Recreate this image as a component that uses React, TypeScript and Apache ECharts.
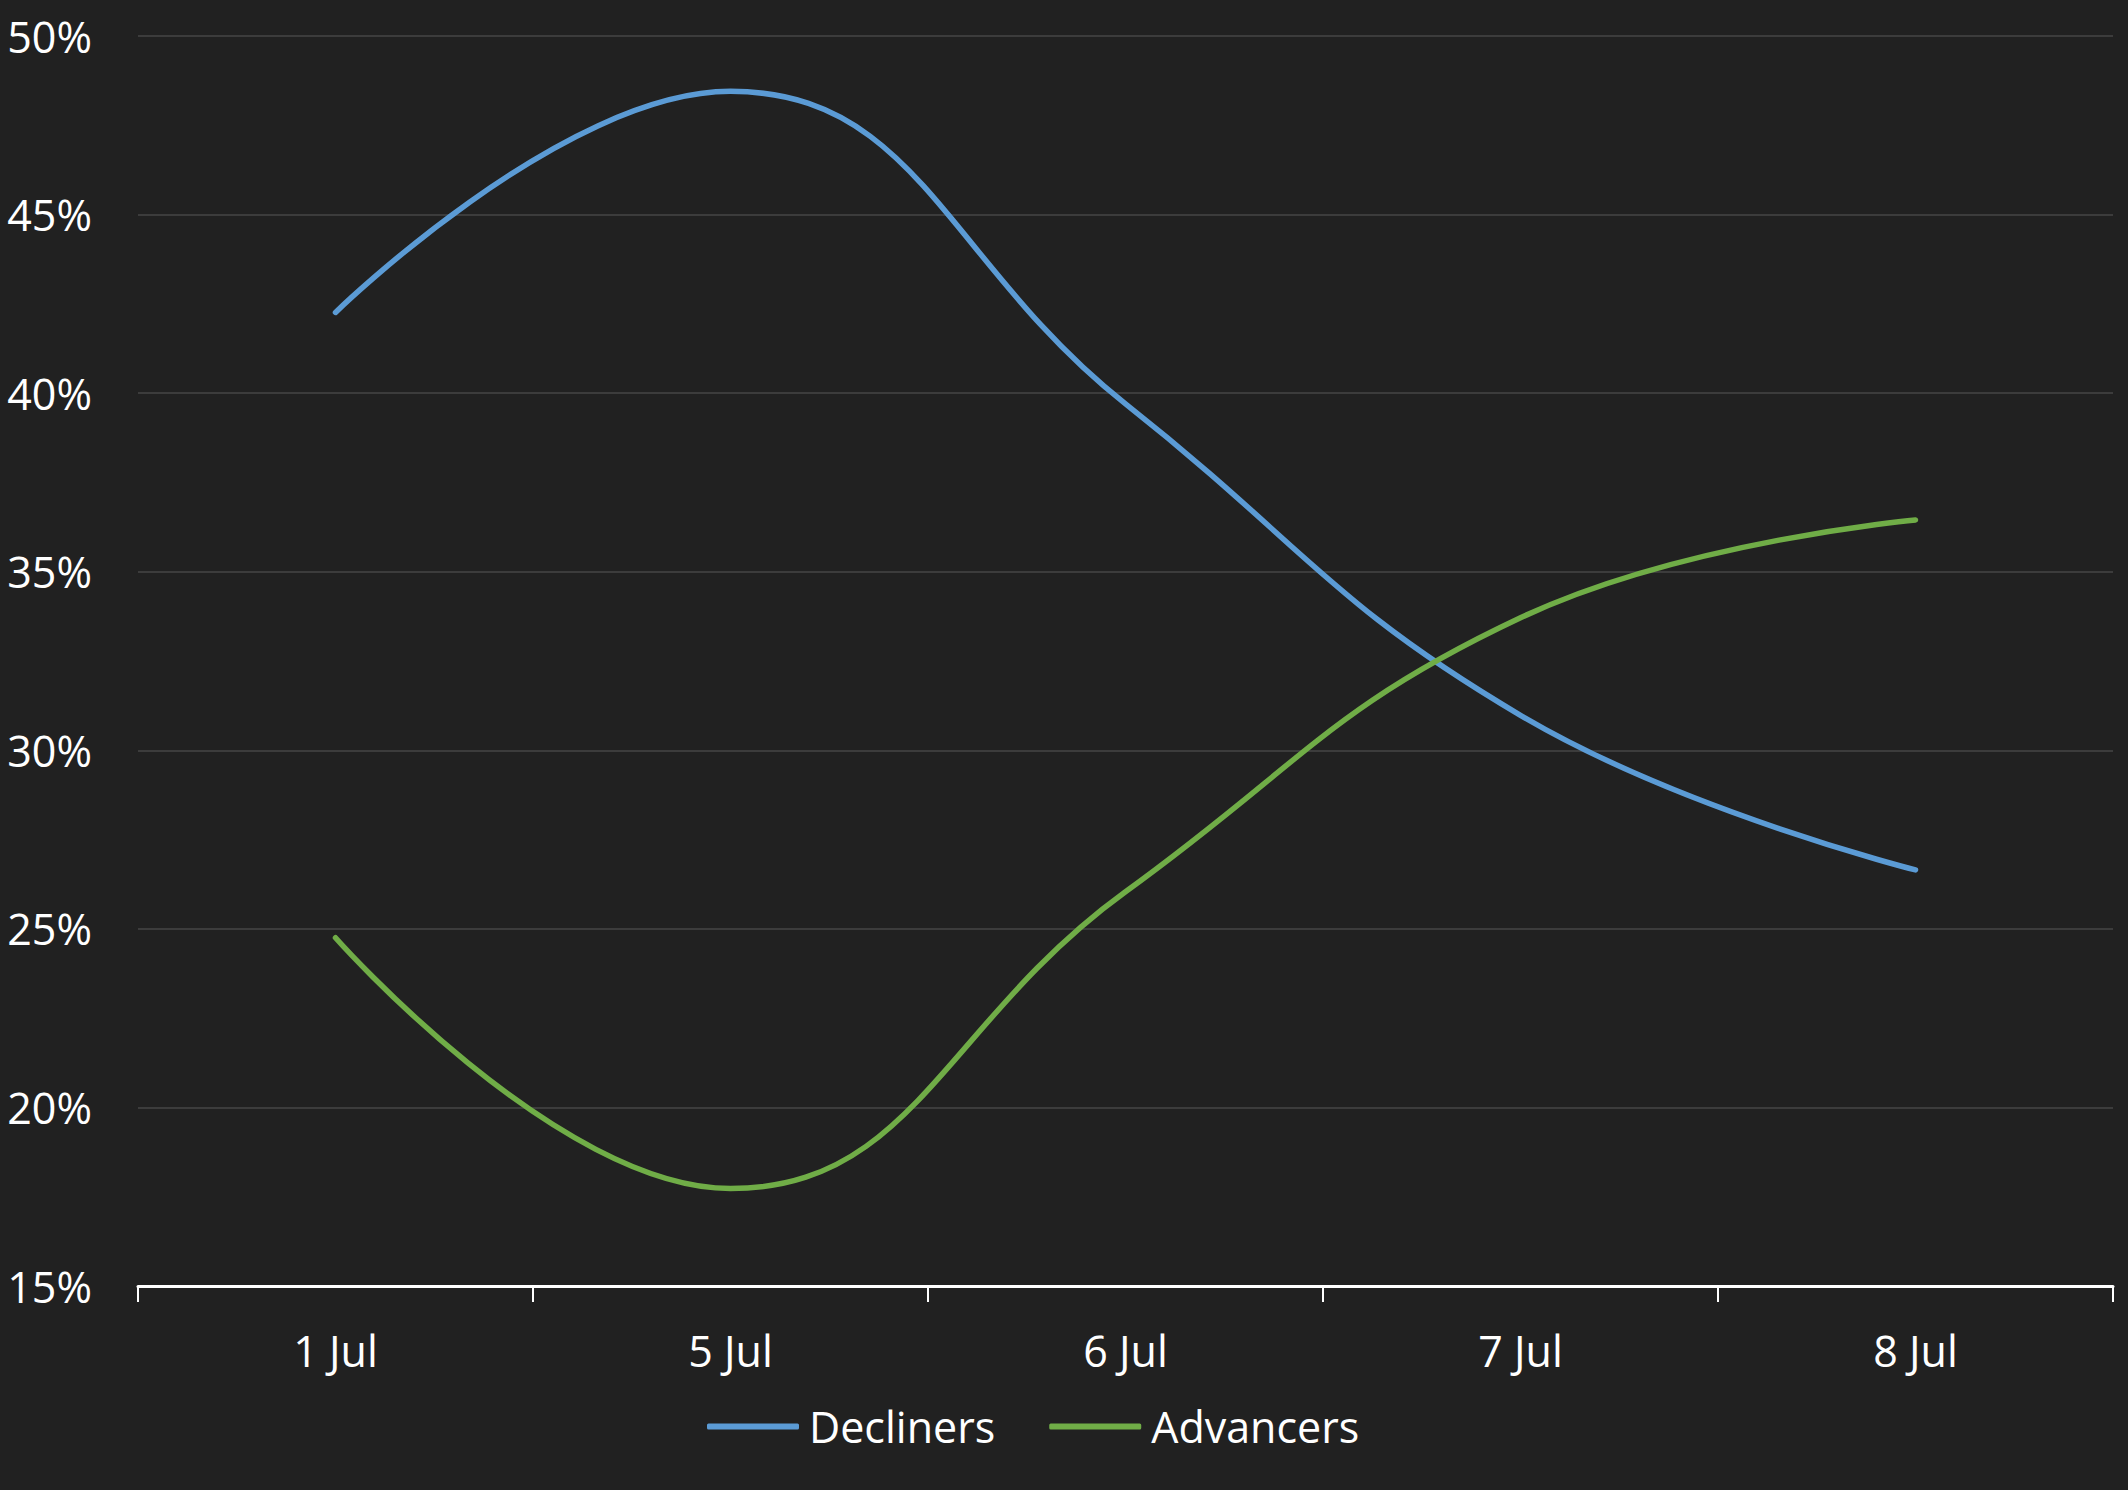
import React, { useEffect, useRef } from "react";
import * as echarts from "echarts";

const categories = ["1 Jul", "5 Jul", "6 Jul", "7 Jul", "8 Jul"];
const decliners = [42.26, 48.45, 39.7, 30.98, 26.65];
const advancers = [24.75, 17.73, 26.04, 33.71, 36.45];

const FONT = "'Open Sans', 'Noto Sans', sans-serif";

export default function App() {
  const ref = useRef<HTMLDivElement>(null);
  useEffect(() => {
    if (!ref.current) return;
    const chart = echarts.init(ref.current, undefined, { renderer: "svg" });
    chart.setOption({
      animation: false,
      backgroundColor: "#212121",
      grid: { left: 138, right: 15, top: 36, bottom: 204, containLabel: false },
      legend: {
        bottom: 37,
        left: 702,
        icon: "roundRect",
        itemWidth: 92,
        itemHeight: 6,
        itemGap: 54,
        textStyle: { color: "#ffffff", fontSize: 43, fontFamily: FONT, padding: [0, 0, 0, 5] },
        data: ["Decliners", "Advancers"],
      },
      xAxis: {
        type: "category",
        data: categories,
        boundaryGap: true,
        axisLine: { show: true, lineStyle: { color: "#ffffff", width: 3 } },
        axisTick: { show: true, length: 16, lineStyle: { color: "#ffffff", width: 2 } },
        axisLabel: { color: "#ffffff", fontSize: 43, fontFamily: FONT, margin: 43 },
        splitLine: { show: false },
      },
      yAxis: {
        type: "value",
        min: 15,
        max: 50,
        interval: 5,
        axisLine: { show: false },
        axisTick: { show: false },
        axisLabel: {
          color: "#ffffff",
          fontSize: 43,
          fontFamily: FONT,
          margin: 46,
          formatter: (v: number) => `${v}%`,
        },
        splitLine: { lineStyle: { color: "#3c3c3c", width: 2 } },
      },
      series: [
        {
          name: "Decliners",
          type: "line",
          data: decliners,
          smooth: 0.45,
          showSymbol: false,
          lineStyle: { color: "#5B9BD5", width: 5.5, cap: "round" },
          itemStyle: { color: "#5B9BD5" },
        },
        {
          name: "Advancers",
          type: "line",
          data: advancers,
          smooth: 0.45,
          showSymbol: false,
          lineStyle: { color: "#70AD47", width: 5.5, cap: "round" },
          itemStyle: { color: "#70AD47" },
        },
      ],
    });
    return () => chart.dispose();
  }, []);
  return <div ref={ref} style={{ width: 2128, height: 1490, position: "absolute", left: 0, top: 0 }} />;
}
